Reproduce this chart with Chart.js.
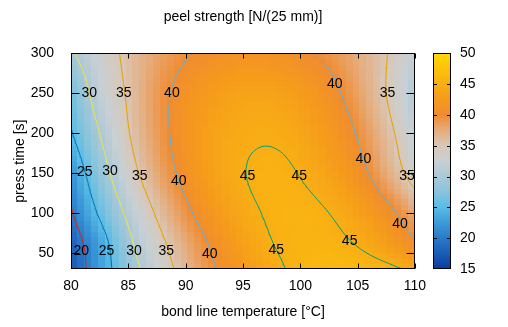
<!DOCTYPE html>
<html>
<head>
<meta charset="utf-8">
<script src="https://cdn.jsdelivr.net/npm/chart.js@4.4.1/dist/chart.umd.min.js"></script>
<style>
  html, body { margin: 0; padding: 0; background: #fff; }
  canvas { display: block; }
</style>
</head>
<body>
<canvas id="c" width="508" height="327"></canvas>
<script>
// peel strength map, values on a coarse grid
const tempC = [80, 82.5, 85, 87.5, 90, 92.5, 95, 97.5, 100, 102.5, 105, 107.5, 110];
const timeS = [30, 60, 100, 150, 200, 250, 300];
const peelAt30  = [17.0, 22.6, 28.0, 32.6, 36.5, 39.8, 42.4, 44.3, 45.6, 46.3, 46.3, 45.7, 44.4];
const peelAt60  = [17.6, 23.0, 29.0, 33.6, 37.4, 40.6, 43.2, 44.9, 45.7, 45.7, 44.9, 43.2, 40.6];
const peelAt100 = [19.6, 25.5, 30.8, 35.4, 39.2, 42.1, 44.2, 45.3, 45.6, 45.0, 43.5, 41.1, 37.8];
const peelAt150 = [21.8, 28.0, 33.3, 37.6, 41.0, 43.4, 44.9, 45.4, 44.9, 43.5, 41.2, 37.7, 33.4];
const peelAt200 = [24.7, 30.0, 34.8, 38.6, 41.5, 43.5, 44.5, 44.7, 44.0, 42.3, 39.8, 36.2, 32.0];
const peelAt250 = [26.3, 31.8, 35.4, 38.75, 41.2, 42.8, 43.6, 43.6, 42.7, 41.0, 38.4, 35.0, 30.8];
const peelAt300 = [29.6, 33.0, 35.8, 38.0, 39.7, 40.8, 41.3, 41.2, 40.5, 39.3, 37.4, 35.1, 32.1];
const peelRows = [peelAt30, peelAt60, peelAt100, peelAt150, peelAt200, peelAt250, peelAt300];

const levels = [20, 25, 30, 35, 40, 45];
const levelColors = ['#e51e10', '#0072b2', '#f0e442', '#e69f00', '#56b4e9', '#009e73'];

const xTicks = [80, 85, 90, 95, 100, 105, 110];
const yTicks = [50, 100, 150, 200, 250, 300];
const cbTicks = [15, 20, 25, 30, 35, 40, 45, 50];

// contour labels: [level, temperature, press time]
const contourLabels = [
  [30, 81.6, 250], [35, 84.6, 250], [40, 88.8, 250], [40, 103.0, 262], [35, 107.6, 250],
  [25, 81.2, 151], [30, 83.4, 152], [35, 86.0, 146], [40, 89.4, 140], [45, 95.4, 146],
  [45, 99.9, 146], [40, 105.5, 167], [35, 109.3, 146],
  [20, 80.9, 52], [25, 83.1, 52], [30, 85.5, 52], [35, 88.3, 52], [40, 92.1, 48],
  [45, 97.9, 54], [45, 104.3, 65], [40, 108.7, 86]
];

// colour palette of the map
const palette = [
  [15, '#0a3c9c'], [17.5, '#1a5cb6'], [20, '#2a7ac8'], [22.5, '#3c9ad8'], [25, '#58bce6'],
  [27.5, '#88c4dc'], [30, '#aac8d6'], [32.5, '#c8d0d4'], [35, '#d8c8b8'], [37.5, '#e6ac7c'],
  [40, '#f08c30'], [42.5, '#f59a1c'], [45, '#f8ae14'], [47.5, '#fcc20c'], [50, '#ffd800']
];

const FONT = '"Liberation Sans", Arial, Helvetica, sans-serif';

function hexRgb(h) {
  return [parseInt(h.slice(1, 3), 16), parseInt(h.slice(3, 5), 16), parseInt(h.slice(5, 7), 16)];
}
const paletteRgb = palette.map(p => [p[0], hexRgb(p[1])]);

function colorFor(v) {
  if (v <= paletteRgb[0][0]) v = paletteRgb[0][0];
  if (v >= paletteRgb[paletteRgb.length - 1][0]) v = paletteRgb[paletteRgb.length - 1][0];
  let k = 0;
  while (k < paletteRgb.length - 2 && v > paletteRgb[k + 1][0]) k++;
  const [v0, c0] = paletteRgb[k], [v1, c1] = paletteRgb[k + 1];
  const f = (v - v0) / (v1 - v0);
  const c = c0.map((a, n) => Math.round(a + f * (c1[n] - a)));
  return `rgb(${c[0]},${c[1]},${c[2]})`;
}

function idx(arr, v) {
  let i = 0;
  while (i < arr.length - 2 && v > arr[i + 1]) i++;
  return i;
}

// smooth (cubic hermite) lookup between grid values
function hermite(xs, ys, v) {
  const n = xs.length;
  const i = idx(xs, v);
  const h = xs[i + 1] - xs[i];
  const slope = k => {
    if (k === 0) return (ys[1] - ys[0]) / (xs[1] - xs[0]);
    if (k === n - 1) return (ys[n - 1] - ys[n - 2]) / (xs[n - 1] - xs[n - 2]);
    const h0 = xs[k] - xs[k - 1], h1 = xs[k + 1] - xs[k];
    const d0 = (ys[k] - ys[k - 1]) / h0, d1 = (ys[k + 1] - ys[k]) / h1;
    return (d0 * h1 + d1 * h0) / (h0 + h1);
  };
  const m0 = slope(i) * h, m1 = slope(i + 1) * h;
  const f = Math.min(1, Math.max(0, (v - xs[i]) / h));
  const f2 = f * f, f3 = f2 * f;
  return (2 * f3 - 3 * f2 + 1) * ys[i] + (f3 - 2 * f2 + f) * m0 +
         (-2 * f3 + 3 * f2) * ys[i + 1] + (f3 - f2) * m1;
}

function peelAt(t, s) {
  return hermite(timeS, peelRows.map(r => hermite(tempC, r, t)), s);
}

// marching squares on a finer sampling of the grid
const NX = 120, NY = 108;
const tMin = tempC[0], tMax = tempC[tempC.length - 1];
const sMin = timeS[0], sMax = timeS[timeS.length - 1];
const sx = i => tMin + i * (tMax - tMin) / NX;
const sy = j => sMin + j * (sMax - sMin) / NY;
const samples = [];
for (let j = 0; j <= NY; j++) {
  samples.push([]);
  for (let i = 0; i <= NX; i++) samples[j].push(peelAt(sx(i), sy(j)));
}

function contour(level) {
  const pts = [];
  for (let j = 0; j < NY; j++) {
    for (let i = 0; i < NX; i++) {
      const c = [
        [sx(i), sy(j), samples[j][i]],
        [sx(i + 1), sy(j), samples[j][i + 1]],
        [sx(i + 1), sy(j + 1), samples[j + 1][i + 1]],
        [sx(i), sy(j + 1), samples[j + 1][i]]
      ];
      const hits = [];
      for (let k = 0; k < 4; k++) {
        const p = c[k], q = c[(k + 1) % 4];
        if ((p[2] < level) !== (q[2] < level)) {
          const f = (level - p[2]) / (q[2] - p[2]);
          hits.push({ x: p[0] + f * (q[0] - p[0]), y: p[1] + f * (q[1] - p[1]) });
        }
      }
      for (let k = 0; k + 1 < hits.length; k += 2) {
        pts.push(hits[k], hits[k + 1], { x: hits[k + 1].x, y: null });
      }
    }
  }
  return pts;
}

const heatmap = {
  id: 'heatmap',
  beforeDatasetsDraw(chart) {
    const { ctx, chartArea: a, scales: { x, y } } = chart;
    ctx.save();
    ctx.beginPath();
    ctx.rect(a.left, a.top, a.right - a.left, a.bottom - a.top);
    ctx.clip();
    const cols = 50, rows = 40;
    const dt = (tMax - tMin) / cols, ds = (sMax - sMin) / rows;
    for (let i = 0; i < cols; i++) {
      for (let j = 0; j < rows; j++) {
        const t0 = tMin + i * dt, s0 = sMin + j * ds;
        const px0 = Math.floor(x.getPixelForValue(t0)), px1 = Math.ceil(x.getPixelForValue(t0 + dt));
        const py0 = Math.floor(y.getPixelForValue(s0 + ds)), py1 = Math.ceil(y.getPixelForValue(s0));
        ctx.fillStyle = colorFor(peelAt(t0 + dt / 2, s0 + ds / 2));
        ctx.fillRect(px0, py0, px1 - px0, py1 - py0);
      }
    }
    ctx.restore();
  },
  afterDatasetsDraw(chart) {
    const { ctx, chartArea: a, scales: { x, y } } = chart;
    ctx.save();
    // contour labels
    ctx.font = '14px ' + FONT;
    ctx.fillStyle = '#000';
    ctx.textAlign = 'center';
    ctx.textBaseline = 'middle';
    contourLabels.forEach(([lv, t, s]) => {
      ctx.fillText(String(lv), x.getPixelForValue(t), y.getPixelForValue(s));
    });
    // frame and inward ticks
    ctx.strokeStyle = '#000';
    ctx.lineWidth = 1;
    const L = Math.round(a.left) + 0.5, R = Math.round(a.right) - 0.5;
    const T = Math.round(a.top) + 0.5, B = Math.round(a.bottom) - 0.5;
    ctx.strokeRect(L, T, R - L, B - T);
    ctx.beginPath();
    xTicks.forEach(v => {
      const px = Math.round(x.getPixelForValue(v)) + 0.5;
      ctx.moveTo(px, B); ctx.lineTo(px, B - 5);
      ctx.moveTo(px, T); ctx.lineTo(px, T + 5);
    });
    yTicks.forEach(v => {
      const py = Math.round(y.getPixelForValue(v)) + 0.5;
      ctx.moveTo(L, py); ctx.lineTo(L + 8, py);
      ctx.moveTo(R, py); ctx.lineTo(R - 8, py);
    });
    ctx.stroke();
    ctx.restore();
  },
  afterDraw(chart) {
    const { ctx, chartArea: a, scales: { cb } } = chart;
    ctx.save();
    // colour bar
    const left = Math.round(cb.left) + 18, w = 18;
    const top = Math.round(cb.getPixelForValue(cb.max)), bot = Math.round(cb.getPixelForValue(cb.min));
    for (let py = top; py < bot; py++) {
      ctx.fillStyle = colorFor(cb.getValueForPixel(py + 0.5));
      ctx.fillRect(left, py, w, 1);
    }
    ctx.strokeStyle = '#000';
    ctx.lineWidth = 1;
    ctx.strokeRect(left + 0.5, top + 0.5, w - 1, bot - top - 1);
    ctx.beginPath();
    cbTicks.forEach(v => {
      if (v === cb.min || v === cb.max) return;
      const py = Math.round(cb.getPixelForValue(v)) + 0.5;
      ctx.moveTo(left, py); ctx.lineTo(left + 4, py);
      ctx.moveTo(left + w, py); ctx.lineTo(left + w - 4, py);
    });
    ctx.stroke();
    // title
    ctx.font = '14px ' + FONT;
    ctx.fillStyle = '#000';
    ctx.textAlign = 'center';
    ctx.textBaseline = 'alphabetic';
    ctx.fillText('peel strength [N/(25 mm)]', (a.left + a.right) / 2, 21);
    ctx.restore();
  }
};

const tickFont = { family: FONT, size: 14 };
const noGrid = { display: false, drawTicks: false };

new Chart(document.getElementById('c'), {
  type: 'scatter',
  data: {
    datasets: levels.map((lv, n) => ({
      label: String(lv),
      data: contour(lv),
      showLine: true,
      spanGaps: false,
      borderColor: levelColors[n],
      borderWidth: 1,
      pointRadius: 0,
      tension: 0
    }))
  },
  options: {
    responsive: false,
    animation: false,
    devicePixelRatio: 1,
    layout: { padding: { top: 39, left: 0, right: 0, bottom: 0 } },
    plugins: { legend: { display: false }, tooltip: { enabled: false }, title: { display: false } },
    scales: {
      x: {
        type: 'linear', position: 'bottom', min: 80, max: 110,
        afterBuildTicks: s => { s.ticks = xTicks.map(v => ({ value: v })); },
        afterFit: s => { s.height = 58; },
        grid: noGrid, border: { display: false },
        ticks: { font: tickFont, color: '#000', padding: 9, maxRotation: 0 },
        title: { display: true, text: 'bond line temperature [°C]', font: tickFont, color: '#000',
                 padding: { top: 0, bottom: 6 } }
      },
      y: {
        type: 'linear', position: 'left', min: 30, max: 300,
        afterBuildTicks: s => { s.ticks = yTicks.map(v => ({ value: v })); },
        afterFit: s => { s.width = 71; },
        grid: noGrid, border: { display: false },
        ticks: { font: tickFont, color: '#000', padding: 17 },
        title: { display: true, text: 'press time [s]', font: tickFont, color: '#000',
                 padding: { top: 12, bottom: 0 } }
      },
      cb: {
        type: 'linear', position: 'right', min: 15, max: 50,
        afterBuildTicks: s => { s.ticks = cbTicks.map(v => ({ value: v })); },
        afterFit: s => { s.width = 93; },
        grid: noGrid, border: { display: false },
        ticks: { font: tickFont, color: '#000', padding: 45 }
      }
    }
  },
  plugins: [heatmap]
});
</script>
</body>
</html>
